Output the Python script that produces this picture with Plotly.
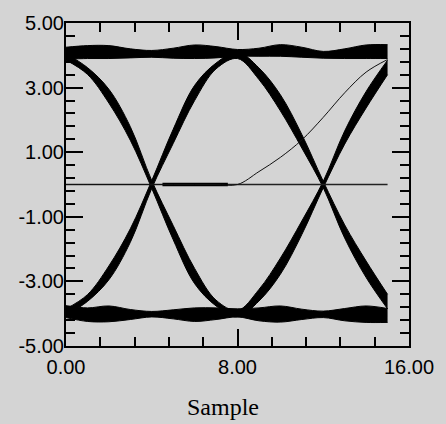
import plotly.graph_objects as go

# sample index of each point in the 16-sample eye window
sample = list(range(16))

# sustained high level (upper rail): upper and lower edge of the trace bundle
top_hi = [4.25, 4.30, 4.30, 4.20, 4.15, 4.22, 4.32, 4.27, 4.18, 4.22, 4.33, 4.25, 4.12, 4.20, 4.32, 4.33]
top_lo = [3.88, 3.90, 3.90, 3.92, 3.94, 3.91, 3.90, 3.92, 3.97, 3.97, 3.97, 3.94, 3.91, 3.90, 3.90, 3.90]

# sustained low level (lower rail)
bot_hi = [-3.75, -3.82, -3.76, -3.87, -3.93, -3.88, -3.82, -3.82, -3.85, -3.82, -3.76, -3.86, -3.92, -3.84, -3.76, -3.84]
bot_lo = [-4.12, -4.24, -4.25, -4.18, -4.10, -4.16, -4.24, -4.18, -4.10, -4.22, -4.26, -4.18, -4.12, -4.22, -4.27, -4.27]

# high -> low -> high transitions
fall_rise_hi = [4.05, 3.62, 2.95, 1.79, 0.12, -1.27, -2.60, -3.58, -3.90, -3.25, -2.28, -1.13, 0.10, 1.66, 2.88, 3.85]
fall_rise_lo = [3.85, 3.41, 2.52, 1.37, -0.12, -1.71, -3.07, -3.76, -4.10, -3.61, -2.78, -1.55, -0.10, 1.25, 2.37, 3.40]

# low -> high -> low transitions
rise_fall_hi = [-3.85, -3.41, -2.52, -1.37, 0.12, 1.71, 3.07, 3.76, 4.10, 3.61, 2.78, 1.55, 0.10, -1.25, -2.37, -3.40]
rise_fall_lo = [-4.05, -3.62, -2.95, -1.79, -0.12, 1.27, 2.60, 3.58, 3.90, 3.25, 2.28, 1.13, -0.10, -1.66, -2.88, -3.85]

# start-up trace: idle at 0, then rising towards the high level
startup_y = [0.0, 0.0, 0.0, 0.0, 0.0, 0.0, 0.0, 0.0, 0.0, 0.40, 0.84, 1.38, 2.08, 2.84, 3.48, 3.87]

# idle (zero) level traces
zero_x = [0, 15]
zero_y = [0, 0]
hold_x = [4.5, 7.55]
hold_y = [0, 0]

x_ticks = [0, 8, 16]
x_labels = ["0.00", "8.00", "16.00"]
y_ticks = [-5, -3, -1, 1, 3, 5]
y_labels = ["-5.00", "-3.00", "-1.00", "1.00", "3.00", "5.00"]

BG = "#d4d4d4"
INK = "black"

fig = go.Figure()


def add_band(lo, hi):
    """Fill the region between two edges of a bundle of overlaid traces."""
    fig.add_trace(go.Scatter(
        x=sample, y=lo, mode="lines",
        line=dict(color=INK, width=1, shape="spline"),
        hoverinfo="skip", showlegend=False,
    ))
    fig.add_trace(go.Scatter(
        x=sample, y=hi, mode="lines", fill="tonexty", fillcolor=INK,
        line=dict(color=INK, width=1, shape="spline"),
        hoverinfo="skip", showlegend=False,
    ))


add_band(top_lo, top_hi)
add_band(bot_lo, bot_hi)
add_band(fall_rise_lo, fall_rise_hi)
add_band(rise_fall_lo, rise_fall_hi)

fig.add_trace(go.Scatter(x=zero_x, y=zero_y, mode="lines",
                         line=dict(color="#222222", width=1.5),
                         hoverinfo="skip", showlegend=False))
fig.add_trace(go.Scatter(x=hold_x, y=hold_y, mode="lines",
                         line=dict(color=INK, width=3.5),
                         hoverinfo="skip", showlegend=False))
fig.add_trace(go.Scatter(x=sample, y=startup_y, mode="lines",
                         line=dict(color="#111111", width=1, shape="spline"),
                         hoverinfo="skip", showlegend=False))

tick_font = dict(family="Liberation Sans", size=20, color=INK)

fig.update_xaxes(
    range=[0, 16], tickmode="array", tickvals=x_ticks, ticktext=x_labels,
    ticks="inside", ticklen=17, tickwidth=2, tickcolor=INK,
    minor=dict(ticks="inside", ticklen=9, tickwidth=2, tickcolor=INK, tick0=0, dtick=1.6),
    showline=True, linewidth=2, linecolor=INK, mirror="allticks",
    showgrid=False, zeroline=False, tickfont=tick_font, ticklabelstandoff=2,
)
fig.update_yaxes(
    range=[-5, 5], tickmode="array", tickvals=y_ticks, ticktext=y_labels,
    ticks="inside", ticklen=17, tickwidth=2, tickcolor=INK,
    minor=dict(ticks="inside", ticklen=9, tickwidth=2, tickcolor=INK, tick0=-5, dtick=0.4),
    showline=True, linewidth=2, linecolor=INK, mirror="allticks",
    showgrid=False, zeroline=False, tickfont=tick_font, ticklabelstandoff=-4,
)

fig.update_layout(
    width=446, height=424,
    margin=dict(l=66, r=30, t=19, b=78),
    paper_bgcolor=BG, plot_bgcolor=BG,
    showlegend=False,
    title=dict(text="Sample", x=0.5, xref="container", xanchor="center",
               y=0.04, yref="container", yanchor="middle",
               font=dict(family="Liberation Serif", size=24, color=INK)),
)

fig.write_html("out.html")
